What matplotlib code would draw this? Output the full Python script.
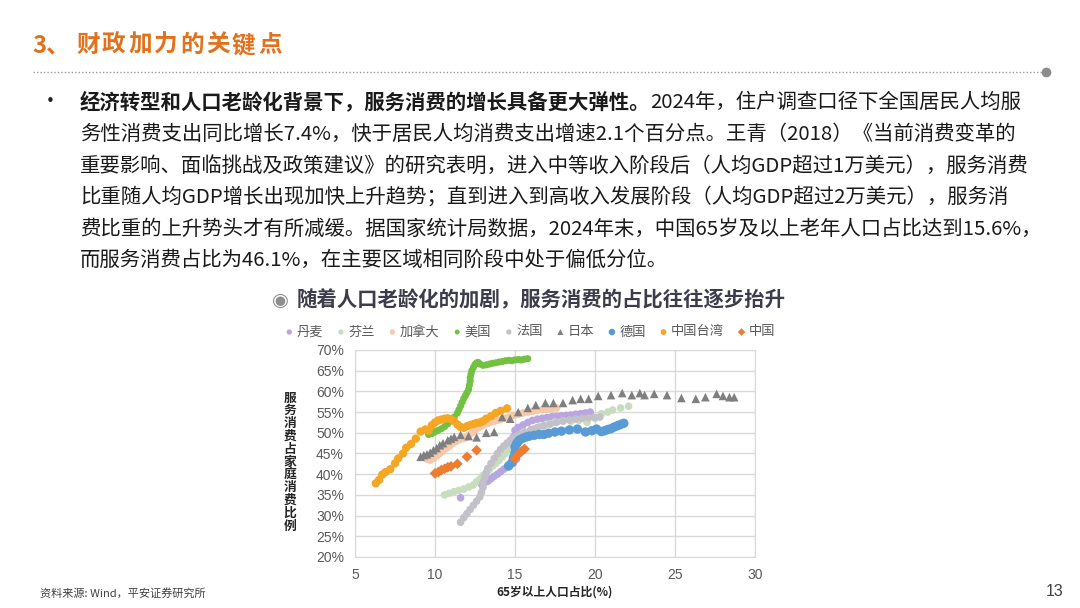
import matplotlib
matplotlib.use("Agg")
import matplotlib.pyplot as plt

plt.rcParams['font.family'] = ['Noto Sans CJK SC', 'DejaVu Sans']

W, H = 1080, 608

# ---- data: (65+ share %, services share of consumption %)
denmark_x = [11.6, 12.9, 13.1, 13.3, 13.5, 13.7, 13.9, 14.1, 14.3, 14.5, 14.7, 14.9, 15.1, 15.0, 14.9,
             15.0, 15.2, 15.5, 15.8, 16.1, 16.4, 16.7, 17.0, 17.3, 17.6, 17.9, 18.2, 18.5, 18.8, 19.1,
             19.4, 19.7]
denmark_y = [34.3, 37.6, 38.0, 38.3, 38.9, 39.5, 40.0, 40.6, 41.2, 41.7, 42.2, 42.7, 43.6, 46.5, 49.0,
             50.6, 51.3, 51.9, 52.5, 53.0, 53.3, 53.5, 53.7, 53.9, 54.0, 54.1, 54.2, 54.3, 54.5, 54.6,
             54.8, 55.0]

finland_x = [10.6, 10.9, 11.2, 11.5, 11.8, 12.1, 12.4, 12.6, 12.8, 13.0, 13.2, 13.4, 13.6, 13.8, 14.0,
             14.2, 14.4, 14.6, 14.8, 15.0, 15.2, 15.4, 15.6, 15.9, 16.2, 16.6, 17.0, 17.5, 18.0, 18.5,
             19.0, 19.5, 20.0, 20.4, 20.8, 21.1, 21.6, 22.1]
finland_y = [35.0, 35.4, 35.8, 36.1, 36.4, 36.9, 37.4, 38.2, 38.8, 39.7, 40.4, 41.1, 42.0, 42.6, 43.3,
             44.2, 45.0, 45.8, 46.6, 47.4, 48.0, 48.8, 49.6, 50.4, 51.0, 51.6, 52.1, 52.6, 52.9, 52.8,
             53.0, 52.5, 53.5, 54.6, 55.0, 55.5, 56.0, 56.4]

canada_x = [9.5, 9.7, 9.9, 10.1, 10.3, 10.5, 10.7, 10.9, 11.1, 11.3, 11.5, 11.7, 11.9, 12.1, 12.3,
            12.5, 12.7, 12.9, 13.1, 13.3, 13.5, 13.7, 13.9, 14.1, 14.3, 14.6, 14.9, 15.2, 15.5, 15.8,
            16.1, 16.4, 16.7, 17.0, 17.3, 17.6]
canada_y = [43.6, 43.4, 43.8, 44.4, 45.0, 45.6, 46.2, 46.8, 47.4, 47.9, 48.3, 48.6, 48.8, 49.4, 50.0,
            50.6, 51.2, 51.6, 52.0, 52.3, 52.6, 52.8, 53.0, 53.2, 53.5, 53.8, 54.2, 54.5, 54.8, 55.0,
            55.2, 55.4, 55.6, 55.7, 55.8, 56.0]

usa_x = [9.6, 9.8, 10.0, 10.2, 10.4, 10.6, 10.8, 11.0, 11.2, 11.4, 11.5, 11.6, 11.7, 11.8, 11.9,
         12.0, 12.1, 12.15, 12.2, 12.2, 12.25, 12.3, 12.4, 12.5, 12.6, 12.7, 12.8, 13.0, 13.2, 13.4,
         13.6, 13.8, 14.0, 14.2, 14.4, 14.6, 14.8, 15.0, 15.2, 15.4, 15.6, 15.8]
usa_y = [49.6, 49.8, 50.2, 50.6, 51.0, 51.5, 52.2, 53.0, 53.8, 54.8, 55.6, 56.5, 57.4, 58.3, 59.0,
         59.7, 60.5, 61.5, 62.5, 63.3, 64.2, 65.0, 65.8, 66.5, 66.9, 67.0, 66.6, 66.3, 66.4, 66.6,
         66.8, 66.9, 67.1, 67.2, 67.4, 67.5, 67.4, 67.6, 67.7, 67.6, 67.8, 67.9]

france_x = [11.6, 11.8, 12.0, 12.2, 12.4, 12.6, 12.8, 12.9, 13.0, 13.0, 13.1, 13.2, 13.3, 13.5, 13.7,
            13.9, 14.1, 14.3, 14.5, 14.7, 14.9, 15.1, 15.3, 15.6, 16.0, 16.4, 16.8, 17.2, 17.6, 18.0,
            18.4, 18.8, 19.2, 19.6, 20.0, 20.3]
france_y = [28.4, 29.5, 30.5, 31.5, 32.5, 33.5, 34.5, 35.6, 36.8, 38.0, 39.2, 40.3, 41.4, 42.6, 43.8,
            45.0, 46.0, 46.8, 47.5, 48.2, 48.7, 49.2, 49.6, 50.2, 50.8, 51.3, 51.7, 52.1, 52.5, 52.8,
            53.1, 53.3, 53.5, 53.6, 53.7, 53.8]

japan_x = [9.1, 9.3, 9.5, 9.7, 9.9, 10.1, 10.3, 10.5, 10.8, 11.0, 11.2, 11.6, 12.1, 12.6, 13.2,
           13.7, 14.2, 14.7, 15.2, 15.8, 16.3, 16.9, 17.4, 18.0, 18.6, 19.1, 19.6, 20.2, 21.0, 21.7,
           22.3, 22.8, 23.1, 23.7, 24.5, 25.4, 26.3, 26.9, 27.6, 28.0, 28.4, 28.7]
japan_y = [44.2, 44.6, 44.8, 45.2, 45.8, 46.3, 47.0, 47.5, 48.2, 48.6, 49.0, 49.5, 49.2, 48.9, 50.0,
           50.2, 53.8, 53.4, 55.0, 56.0, 56.7, 57.2, 57.2, 57.2, 57.9, 58.2, 58.2, 58.9, 59.1, 59.6,
           59.1, 59.6, 59.1, 59.4, 59.1, 58.4, 58.2, 58.6, 59.4, 58.9, 58.6, 58.6]

germany_x = [14.6, 14.8, 14.9, 15.0, 15.0, 15.1, 15.2, 15.3, 15.5, 15.7, 15.9, 16.2, 16.5, 16.8, 17.1,
             17.5, 17.9, 18.4, 18.9, 19.4, 19.8, 20.1, 20.4, 20.6, 20.8, 21.0, 21.2, 21.4, 21.6, 21.8]
germany_y = [42.0, 42.8, 44.0, 45.2, 46.6, 47.4, 47.9, 48.3, 48.7, 49.0, 49.2, 49.4, 49.6, 49.6, 49.9,
             50.2, 50.4, 50.7, 50.9, 50.2, 50.5, 50.9, 50.3, 50.5, 50.8, 51.0, 51.4, 51.7, 52.0, 52.3]

taiwan_x = [6.3, 6.5, 6.7, 6.9, 7.2, 7.5, 7.7, 8.0, 8.2, 8.5, 8.8, 9.1, 9.4, 9.6, 9.8,
            10.0, 10.2, 10.4, 10.6, 10.8, 11.0, 11.2, 11.4, 11.6, 11.8, 12.0, 12.2, 12.4, 12.6, 12.8,
            13.0, 13.2, 13.5, 13.8, 14.1, 14.5]
taiwan_y = [37.8, 38.6, 39.9, 40.5, 41.2, 42.6, 43.8, 45.0, 46.4, 47.3, 48.6, 50.3, 50.8, 50.5, 51.8,
            52.5, 53.0, 53.2, 53.4, 53.5, 53.3, 52.8, 52.0, 51.4, 51.2, 51.6, 51.9, 52.1, 52.4, 52.5,
            52.8, 53.4, 54.0, 54.8, 55.3, 55.9]

china_x = [10.0, 10.2, 10.4, 10.6, 10.8, 11.0, 11.4, 12.0, 12.6, 15.0, 15.2, 15.4, 15.6]
china_y = [40.2, 40.5, 41.0, 41.3, 41.7, 41.9, 42.5, 44.2, 45.8, 43.8, 44.8, 45.5, 46.1]

x_ticks = [5, 10, 15, 20, 25, 30]
y_ticks = [20, 25, 30, 35, 40, 45, 50, 55, 60, 65, 70]

series = [
    ("丹麦", denmark_x, denmark_y, '#B9A6E0', 'o', 30),
    ("芬兰", finland_x, finland_y, '#C8DDBE', 'o', 30),
    ("加拿大", canada_x, canada_y, '#F7C9AA', 'o', 30),
    ("美国", usa_x, usa_y, '#72C142', 'o', 26),
    ("法国", france_x, france_y, '#C2C1C8', 'o', 30),
    ("日本", japan_x, japan_y, '#7F7F7F', '^', 38),
    ("德国", germany_x, germany_y, '#5B9BD5', 'o', 46),
    ("中国台湾", taiwan_x, taiwan_y, '#F5A623', 'o', 36),
    ("中国", china_x, china_y, '#ED7D31', 'D', 30),
]

title_head = "3、"
title_rest = "财政加力的关键点"
body_bold = "经济转型和人口老龄化背景下，服务消费的增长具备更大弹性。"
body_lines = [
    "2024年，住户调查口径下全国居民人均服",
    "务性消费支出同比增长7.4%，快于居民人均消费支出增速2.1个百分点。王青（2018）《当前消费变革的",
    "重要影响、面临挑战及政策建议》的研究表明，进入中等收入阶段后（人均GDP超过1万美元），服务消费",
    "比重随人均GDP增长出现加快上升趋势；直到进入到高收入发展阶段（人均GDP超过2万美元），服务消",
    "费比重的上升势头才有所减缓。据国家统计局数据，2024年末，中国65岁及以上老年人口占比达到15.6%，",
    "而服务消费占比为46.1%，在主要区域相同阶段中处于偏低分位。",
]

fig = plt.figure(figsize=(W / 100, H / 100), dpi=100)
fig.patch.set_facecolor('white')


def fx(px):
    return px / W


def fy(py):
    return 1 - py / H


# header, title characters spaced out like the slide
fig.text(fx(32), fy(45), title_head, fontsize=17, fontweight='bold',
         color='#E2711D', va='center', ha='left')
for i, ch in enumerate(title_rest):
    fig.text(fx(76 + i * 26), fy(45), ch, fontsize=17, fontweight='bold',
             color='#E2711D', va='center', ha='left')
deco = fig.add_axes([0, 0, 1, 1], zorder=-1)
deco.set_xlim(0, W)
deco.set_ylim(H, 0)
deco.axis('off')
deco.plot([33, 1042], [72, 72], linestyle=(0, (1, 1.5)), color='#9A9A9A', lw=1)
deco.plot([1046], [72], 'o', color='#8C8C8C', markersize=6)

# bullet paragraph
r = fig.canvas.get_renderer()
fig.text(fx(40), fy(102), "•", fontsize=15, va='center', ha='left', color='#222222')
line_y = [102, 134, 166, 197, 229, 260]
tb = fig.text(fx(80), fy(line_y[0]), body_bold, fontsize=14.7, fontweight='bold',
              va='center', ha='left', color='#1A1A1A')
bb = tb.get_window_extent(renderer=r)
fig.text(bb.x1 / W, fy(line_y[0]), body_lines[0], fontsize=14.7, va='center', ha='left',
         color='#1A1A1A')
for yy, line in zip(line_y[1:], body_lines[1:]):
    fig.text(fx(80), fy(yy), line, fontsize=14.7, va='center', ha='left', color='#1A1A1A')

# chart title
fig.text(fx(272), fy(300), "◉", fontsize=14, va='center', ha='left', color='#8E8E8E',
         family=['DejaVu Sans'])
fig.text(fx(297), fy(300), "随着人口老龄化的加剧，服务消费的占比往往逐步抬升", fontsize=14.7,
         fontweight='bold', va='center', ha='left', color='#3C3C4A')

# scatter chart
ax = fig.add_axes([fx(355), fy(557), (755 - 355) / W, (557 - 350) / H])
handles = []
for name, xs, ys, col, mk, sz in series:
    h = ax.scatter(xs, ys, s=sz, color=col, marker=mk, edgecolors='none', label=name, zorder=3)
    handles.append(h)

ax.set_xlim(5, 30)
ax.set_ylim(20, 70)
ax.set_xticks(x_ticks)
ax.set_yticks(y_ticks)
ax.set_yticklabels(["%d%%" % v for v in y_ticks])
ax.grid(True, color='#D9D9D9', lw=1, zorder=0)
for sp in ax.spines.values():
    sp.set_color('#D9D9D9')
ax.tick_params(length=0, labelsize=10, labelcolor='#595959', pad=8)
for lab in ax.get_xticklabels() + ax.get_yticklabels():
    lab.set_family(['Liberation Sans', 'DejaVu Sans'])

fig.text(fx(290), fy(462), "\n".join("服务消费占家庭消费比例"), fontsize=9.2, fontweight='bold',
         va='center', ha='center', linespacing=0.98, color='#262626')
fig.text(fx(555), fy(592), "65岁以上人口占比(%)", fontsize=8.5, fontweight='bold',
         va='center', ha='center', color='#262626')

fig.legend(handles=handles, loc='center', bbox_to_anchor=(fx(529), fy(332)), ncol=9,
           frameon=False, fontsize=9.5, handletextpad=0.05, columnspacing=0.85,
           markerscale=0.7, labelcolor='#595959', borderpad=0, handlelength=1.0)

# footer
fig.text(fx(40), fy(593), "资料来源: Wind，平安证券研究所", fontsize=8, va='center', ha='left',
         color='#404040')
fig.text(fx(1055), fy(592), "13", fontsize=11.5, va='center', ha='center', color='#404040',
         family=['Liberation Sans', 'DejaVu Sans'])

fig.savefig("out.png", dpi=100)
